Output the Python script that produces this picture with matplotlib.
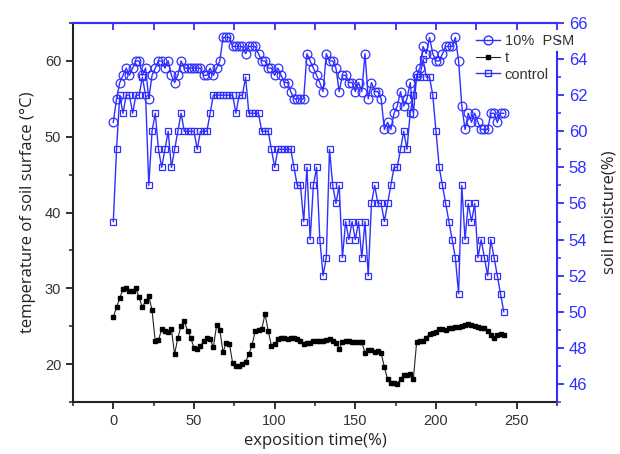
import matplotlib
matplotlib.use("Agg")
import matplotlib.pyplot as plt
from matplotlib.ticker import MultipleLocator
from matplotlib.lines import Line2D
import numpy as np

# soil moisture (%), 10% PSM, sampled every 2 units of exposition time from 0
psm = [60.5, 61.8, 62.7, 63.1, 63.5, 63.1, 63.5, 63.9, 63.9, 63.1,
       63.5, 61.8, 63.1, 63.5, 63.9, 63.9, 63.5, 63.9, 63.1, 62.7,
       63.1, 63.9, 63.5, 63.5, 63.5, 63.5, 63.5, 63.5, 63.1, 63.1,
       63.5, 63.1, 63.5, 63.9, 65.2, 65.2, 65.2, 64.7, 64.7, 64.7,
       64.7, 64.3, 64.7, 64.7, 64.7, 64.3, 63.9, 63.9, 63.5, 63.5,
       63.1, 63.5, 63.1, 62.7, 62.7, 62.2, 61.8, 61.8, 61.8, 61.8,
       64.3, 63.9, 63.5, 63.1, 62.7, 62.2, 64.3, 63.9, 63.9, 63.5,
       62.2, 63.1, 63.1, 62.7, 62.7, 62.2, 62.7, 62.2, 64.3, 61.8,
       62.7, 62.2, 62.2, 61.8, 60.1, 60.5, 60.1, 61.0, 61.4, 62.2,
       61.4, 61.8, 62.7, 61.0, 63.1, 63.5, 64.7, 64.3, 65.2, 64.3,
       63.9, 63.9, 64.3, 64.7, 64.7, 64.7, 65.2, 63.9, 61.4, 60.1,
       61.0, 60.5, 61.0, 60.5, 60.1, 60.1, 60.1, 61.0, 61.0, 60.5,
       61.0, 61.0]

# soil moisture (%), control
control = [55, 59, 62, 61, 62, 62, 61, 62, 62, 63,
           62, 57, 60, 61, 59, 58, 59, 60, 58, 59,
           60, 61, 60, 60, 60, 60, 59, 60, 60, 60,
           61, 62, 62, 62, 62, 62, 62, 62, 61, 62,
           62, 63, 61, 61, 61, 61, 60, 60, 60, 59,
           58, 59, 59, 59, 59, 59, 58, 57, 57, 55,
           58, 54, 57, 58, 54, 52, 53, 59, 57, 56,
           57, 53, 55, 54, 55, 54, 55, 53, 55, 52,
           56, 57, 56, 56, 55, 56, 57, 58, 58, 59,
           60, 59, 61, 62, 63, 63, 64, 63, 63, 62,
           60, 58, 57, 56, 55, 54, 53, 51, 57, 54,
           56, 55, 56, 53, 54, 53, 52, 54, 53, 52,
           51, 50]

# temperature of soil surface (deg C)
temp = [26.2, 27.5, 28.7, 29.9, 30.0, 29.7, 29.6, 30.0, 28.8, 27.5,
        28.3, 29.0, 27.1, 23.0, 23.2, 24.6, 24.4, 24.3, 24.6, 21.3,
        23.5, 25.0, 25.7, 24.4, 23.5, 22.1, 22.0, 22.4, 23.0, 23.5,
        23.3, 22.2, 25.1, 24.5, 21.6, 22.8, 22.6, 20.1, 19.7, 19.8,
        20.0, 20.3, 21.3, 22.5, 24.4, 24.5, 24.6, 26.6, 24.4, 22.4,
        22.6, 23.3, 23.5, 23.4, 23.3, 23.4, 23.5, 23.3, 23.1, 22.7,
        22.8, 22.8, 23.0, 23.1, 23.0, 23.0, 23.2, 23.3, 23.0, 22.8,
        22.0, 22.9, 23.0, 23.0, 22.9, 22.9, 22.9, 22.9, 21.5, 21.8,
        21.9, 21.6, 21.7, 21.5, 19.6, 18.0, 17.5, 17.5, 17.4, 18.0,
        18.5, 18.6, 18.7, 18.1, 22.9, 23.0, 23.0, 23.5, 24.0, 24.1,
        24.3, 24.6, 24.6, 24.5, 24.8, 24.8, 24.9, 24.9, 25.0, 25.1,
        25.3, 25.2, 25.0, 24.9, 24.8, 24.8, 24.4, 23.9, 23.5, 23.9,
        24.0, 23.9]

x_psm = np.arange(len(psm)) * 2
x_ctl = np.arange(len(control)) * 2
x_t = np.arange(len(temp)) * 2

blue = "#2f2fff"
plt.rcParams["font.family"] = ["Liberation Sans", "DejaVu Sans"]

fig = plt.figure(figsize=(6.2, 4.54), dpi=100)
ax = fig.add_axes([0.1177, 0.1145, 0.7807, 0.8348])
ax2 = ax.twinx()

ax.plot(x_t, temp, color="#222222", lw=0.8, marker="s", ms=2.2, mfc="black", mec="black")
ax2.plot(x_ctl, control, color=blue, lw=1.0, marker="s", ms=5, mfc="none", mec=blue, mew=0.9)
ax2.plot(x_psm, psm, color=blue, lw=1.0, marker="o", ms=6.3, mfc="none", mec=blue, mew=0.9)

ax.set_xlim(-25, 275)
ax.set_ylim(15, 65)
ax2.set_ylim(45, 66)

ax.xaxis.set_major_locator(MultipleLocator(50))
ax.xaxis.set_minor_locator(MultipleLocator(25))
ax.yaxis.set_major_locator(MultipleLocator(10))
ax.yaxis.set_minor_locator(MultipleLocator(5))
ax2.yaxis.set_major_locator(MultipleLocator(2))
ax2.yaxis.set_minor_locator(MultipleLocator(1))

for s in ["left", "bottom"]:
    ax.spines[s].set_color("#222222")
    ax.spines[s].set_linewidth(1.5)
ax.spines["top"].set_visible(False)
ax.spines["right"].set_visible(False)
ax2.spines["left"].set_visible(False)
ax2.spines["bottom"].set_visible(False)
ax2.spines["top"].set_color(blue)
ax2.spines["top"].set_linewidth(1.5)
ax2.spines["right"].set_color(blue)
ax2.spines["right"].set_linewidth(1.5)
ax2.spines["right"].set_bounds(45, 64.4)

ax.tick_params(axis="both", which="major", direction="out", length=5, width=1.3,
               labelsize=10.5, colors="#222222", labelcolor="#333333")
ax.tick_params(axis="both", which="minor", direction="out", length=3, width=1.1, colors="#222222")
ax2.tick_params(axis="y", which="major", direction="out", length=5, width=1.3,
                labelsize=12, colors=blue)
ax2.tick_params(axis="y", which="minor", direction="out", length=3, width=1.1, colors=blue)

top = ax.secondary_xaxis("top")
top.xaxis.set_major_locator(MultipleLocator(25))
top.tick_params(direction="in", length=5, width=1.3, colors=blue, labeltop=False)
top.spines["top"].set_color(blue)
top.spines["top"].set_linewidth(1.5)

ax.set_xlabel("exposition time(%)", fontsize=12, family="Open Sans", color="#222222", labelpad=4)
ax.set_ylabel("temperature of soil surface (°C)", fontsize=12, family="Open Sans", color="#222222", labelpad=6)
ax2.set_ylabel("soil moisture(%)", fontsize=12, family="Open Sans", color="#222222", labelpad=10)

handles = [
    Line2D([], [], color=blue, lw=1.0, marker="o", ms=6.3, mfc="none", mec=blue),
    Line2D([], [], color="#222222", lw=0.8, marker="s", ms=2.2, mfc="black", mec="black"),
    Line2D([], [], color=blue, lw=1.0, marker="s", ms=5, mfc="none", mec=blue),
]
leg = ax2.legend(handles, ["10%  PSM", "t", "control"], loc="upper left",
                 bbox_to_anchor=(0.753, 0.945), bbox_transform=fig.transFigure,
                 frameon=False, fontsize=10.5, handlelength=1.7, handletextpad=0.3,
                 labelspacing=0.2, borderpad=0.1)
for t in leg.get_texts():
    t.set_color("#333333")

fig.savefig("out.png", dpi=100)
